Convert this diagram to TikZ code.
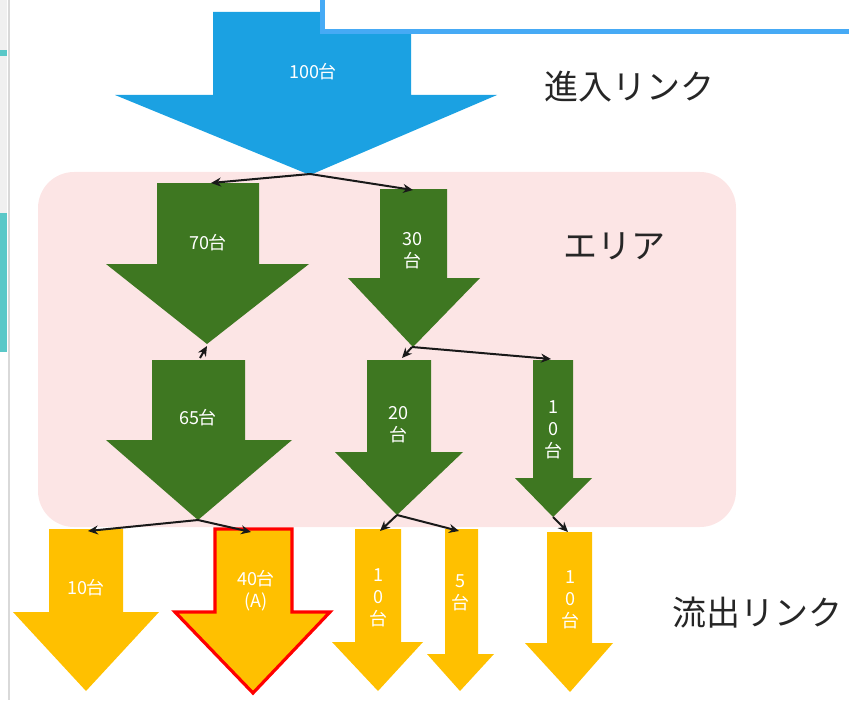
\documentclass[tikz,border=0pt]{standalone}
\usepackage{fontspec}
\setmainfont{Noto Sans CJK JP}
\usetikzlibrary{arrows.meta}
\definecolor{inblue}{RGB}{27,161,226}
\definecolor{boxblue}{RGB}{70,170,245}
\definecolor{areapink}{RGB}{252,229,229}
\definecolor{mygreen}{RGB}{62,119,33}
\definecolor{outyellow}{RGB}{255,192,0}
\definecolor{sidecyan}{RGB}{90,200,200}

\begin{document}
\begin{tikzpicture}[x=0.5pt,y=-0.5pt,
    flow/.style={->,>={Stealth[length=5pt,width=4.5pt]},line width=1pt,black!90},
    lbl/.style={white,font=\fontsize{9}{11}\selectfont,align=center,inner sep=0pt},
    big/.style={black!85,font=\fontsize{17}{20}\selectfont,inner sep=0pt}]
    \useasboundingbox (0,0) rectangle (849,700);

    % left edge of the screenshot
    \fill[gray!12] (0,0) rectangle (7,213);
    \fill[sidecyan] (0,50) rectangle (7,56);
    \fill[sidecyan] (0,213) rectangle (7,352);
    \draw[gray!30,line width=1.2pt] (9,0) -- (9,700);

    % area
    \fill[areapink, rounded corners=18pt] (38,172) rectangle (736,527);
    \node[big] (area) at (614,246) {エリア};

    % incoming link
    \fill[inblue] (213,12) -- (411,12) -- (411,95) -- (497,95) -- (310,175)
        -- (115,95) -- (213,95) -- cycle;
    \coordinate (b-tip) at (310,174);
    \node[lbl] (l100) at (313,72) {100台};
    \fill[white] (322,-5) rectangle (855,32);
    \draw[boxblue,line width=2.5pt] (322,0) |- (849,32);
    \node[big] (inlink) at (629,87) {進入リンク};

    % green arrows in the area
    \fill[mygreen] (157,183) -- (259,183) -- (259,264) -- (309,264) -- (207,344)
        -- (106,264) -- (157,264) -- cycle;
    \fill[mygreen] (380,189) -- (447,189) -- (447,278) -- (480,278) -- (413,347)
        -- (348,278) -- (380,278) -- cycle;
    \fill[mygreen] (152,360) -- (245,360) -- (245,440) -- (292,440) -- (198,520)
        -- (106,440) -- (152,440) -- cycle;
    \fill[mygreen] (367,360) -- (431,360) -- (431,452) -- (463,452) -- (397,515)
        -- (335,452) -- (367,452) -- cycle;
    \fill[mygreen] (533,360) -- (573,360) -- (573,478) -- (592,478) -- (553,517)
        -- (515,478) -- (533,478) -- cycle;
    \node[lbl] (l70) at (208,243) {70台};
    \node[lbl] (l30) at (412,251) {30\\台};
    \node[lbl] (l65) at (198,418) {65台};
    \node[lbl] (l20) at (398,425) {20\\台};
    \node[lbl] (l10g) at (553,430) {1\\0\\台};
    \coordinate (g70-in) at (211,183);
    \coordinate (g30-in) at (413,190);
    \coordinate (g70-tip) at (207,346);
    \coordinate (g65-in) at (200,358);
    \coordinate (g30-tip) at (412,347);
    \coordinate (g20-in) at (402,358);
    \coordinate (g10-in) at (551,359);
    \coordinate (g65-tip) at (198,520);
    \coordinate (g20-tip) at (397,515);
    \coordinate (g10-tip) at (553,517);

    % outgoing links
    \fill[outyellow] (49,529) -- (123,529) -- (123,612) -- (159,612) -- (86,691)
        -- (13,612) -- (49,612) -- cycle;
    \filldraw[fill=outyellow,draw=red,line width=1.6pt] (215,529) -- (292,529) -- (292,612)
        -- (330,612) -- (253,693) -- (175,612) -- (215,612) -- cycle;
    \fill[outyellow] (355,529) -- (401,529) -- (401,642) -- (423,642) -- (378,691)
        -- (332,642) -- (355,642) -- cycle;
    \fill[outyellow] (445,529) -- (478,529) -- (478,654) -- (494,654) -- (460,691)
        -- (427,654) -- (445,654) -- cycle;
    \fill[outyellow] (547,532) -- (592,532) -- (592,643) -- (613,643) -- (570,692)
        -- (525,643) -- (547,643) -- cycle;
    \node[lbl] (l10a) at (86,588) {10台};
    \node[lbl] (l40) at (256,591) {40台\\(A)};
    \node[lbl] (l10b) at (378,598) {1\\0\\台};
    \node[lbl] (l5) at (460,593) {5\\台};
    \node[lbl] (l10c) at (570,600) {1\\0\\台};
    \coordinate (y10a-in) at (88,531);
    \coordinate (y40-in) at (251,532);
    \coordinate (y10b-in) at (380,531);
    \coordinate (y5-in) at (459,531);
    \coordinate (y10c-in) at (568,532);
    \node[big] (outlink) at (757,613) {流出リンク};

    % splits
    \draw[flow] (b-tip) -- (g70-in);
    \draw[flow] (b-tip) -- (g30-in);
    \draw[flow] (g65-in) -- (g70-tip);
    \draw[flow] (g30-tip) -- (g20-in);
    \draw[flow] (g30-tip) -- (g10-in);
    \draw[flow] (g65-tip) -- (y10a-in);
    \draw[flow] (g65-tip) -- (y40-in);
    \draw[flow] (g20-tip) -- (y10b-in);
    \draw[flow] (g20-tip) -- (y5-in);
    \draw[flow] (g10-tip) -- (y10c-in);

\end{tikzpicture}
\end{document}
